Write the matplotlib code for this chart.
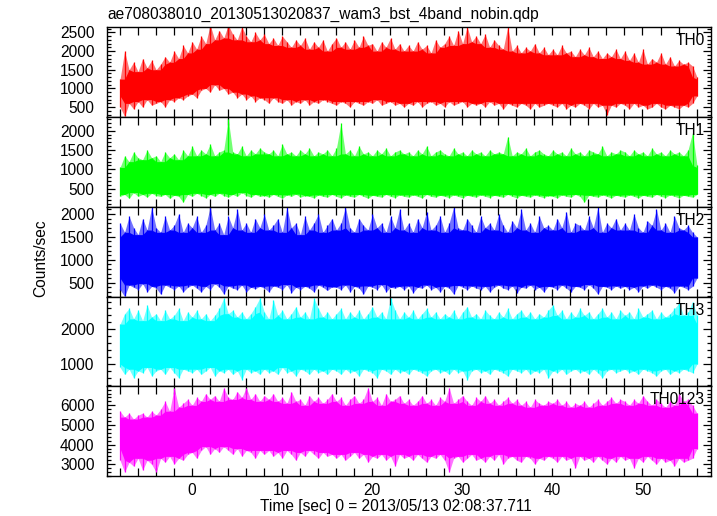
import numpy as np
import matplotlib
matplotlib.use("Agg")
import matplotlib.pyplot as plt
from matplotlib.ticker import MultipleLocator

plt.rcParams['font.family'] = ['Liberation Sans', 'DejaVu Sans']

title = "ae708038010_20130513020837_wam3_bst_4band_nobin.qdp"
xlabel = "Time [sec] 0 = 2013/05/13 02:08:37.711"
ylabel = "Counts/sec"

t_start = -7.95
dt = 0.5

bands = ["TH0", "TH1", "TH2", "TH3", "TH0123"]
colors = ["#ff0000", "#00ff00", "#0000ff", "#00ffff", "#ff00ff"]

th0_hi = [1250, 2000, 1500, 1700, 1450, 1800, 1550, 1750, 1500, 1650, 1850, 1700, 2000, 1800, 2150, 1950,
          2250, 2050, 2400, 2200, 2700, 2300, 2550, 2350, 2700, 2450, 2300, 2650, 2400, 2250, 2500, 2300,
          2450, 2200, 2350, 2150, 2400, 2250, 2100, 2300, 2150, 2350, 2050, 2250, 2100, 2300, 2000, 2200,
          2350, 2100, 2250, 2050, 2300, 2100, 2400, 2150, 2200, 2000, 2250, 2100, 2350, 2050, 2200, 2000,
          2150, 2000, 2250, 2050, 2150, 1950, 2300, 2100, 2200, 2400, 2150, 2550, 2200, 2650, 2250, 2400,
          2200, 2450, 2100, 2300, 2150, 2050, 2650, 2000, 2150, 1950, 2100, 2000, 2200, 1950, 2100, 1900,
          2050, 1900, 2150, 1950, 2000, 1850, 2050, 1900, 2100, 1850, 2000, 1800, 1950, 1850, 2050, 1800,
          2000, 1750, 1950, 1700, 2050, 1650, 1800, 1700, 1950, 1650, 1850, 1600, 1750, 1650, 1700, 1600,
          1300]
th0_lo = [500, 250, 600, 450, 650, 500, 700, 550, 600, 650, 500, 700, 650, 750, 700, 800,
          850, 750, 950, 1000, 900, 1100, 950, 1000, 850, 900, 750, 850, 700, 800, 650, 750,
          700, 600, 750, 650, 600, 700, 550, 650, 600, 700, 550, 650, 600, 700, 650, 600,
          550, 650, 600, 500, 650, 600, 550, 650, 600, 700, 550, 600, 650, 550, 600, 500,
          600, 550, 650, 500, 600, 650, 550, 600, 500, 650, 550, 600, 650, 500, 600, 550,
          600, 500, 650, 550, 600, 450, 600, 550, 500, 600, 550, 450, 600, 500, 550, 600,
          550, 500, 600, 450, 550, 500, 600, 550, 450, 600, 500, 550, 300, 550, 500, 600,
          550, 450, 600, 500, 550, 450, 500, 600, 500, 450, 550, 500, 450, 550, 500, 600,
          800]

th1_hi = [1050, 1350, 1200, 1450, 1300, 1250, 1500, 1300, 1350, 1200, 1450, 1300, 1400, 1250, 1500, 1350,
          1600, 1350, 1500, 1400, 1650, 1350, 1450, 1500, 2300, 1450, 1400, 1600, 1350, 1500, 1400, 1550,
          1450, 1400, 1500, 1350, 1650, 1400, 1450, 1350, 1500, 1400, 1550, 1350, 1450, 1400, 1500, 1350,
          1550, 2200, 1400, 1500, 1350, 1600, 1400, 1450, 1350, 1500, 1400, 1550, 1350, 1450, 1500, 1400,
          1450, 1350, 1500, 1400, 1600, 1350, 1450, 1500, 1400, 1350, 1550, 1400, 1450, 1350, 1500, 1400,
          1450, 1350, 1500, 1400, 1450, 1400, 1850, 1350, 1450, 1400, 1550, 1350, 1450, 1500, 1400, 1350,
          1500, 1400, 1450, 1350, 1550, 1400, 1450, 1350, 1500, 1450, 1400, 1600, 1350, 1450, 1400, 1500,
          1450, 1350, 1500, 1400, 1450, 1350, 1550, 1400, 1450, 1350, 1500, 1400, 1450, 1350, 1500, 1950,
          1100]
th1_lo = [300, 350, 250, 400, 300, 350, 280, 380, 320, 300, 350, 250, 330, 300, 150, 350,
          300, 380, 320, 260, 350, 300, 380, 320, 280, 350, 300, 400, 320, 280, 350, 300,
          320, 280, 350, 300, 250, 340, 300, 360, 280, 320, 300, 260, 340, 300, 280, 350,
          300, 260, 340, 300, 280, 350, 300, 250, 330, 300, 280, 350, 300, 270, 340, 300,
          280, 340, 300, 260, 350, 300, 280, 330, 300, 270, 340, 300, 260, 330, 300, 280,
          340, 300, 270, 330, 300, 280, 350, 300, 260, 330, 300, 280, 340, 300, 270, 320,
          300, 260, 340, 300, 280, 350, 300, 150, 330, 300, 280, 340, 300, 260, 330, 300,
          280, 340, 300, 260, 330, 300, 280, 350, 300, 270, 340, 300, 260, 330, 300, 280,
          350]

th2_hi = [1800, 1600, 1950, 1700, 1550, 1900, 1650, 2150, 1700, 1600, 1950, 1650, 1750, 2000, 1600, 1800,
          1700, 1950, 1600, 1750, 2150, 1650, 1800, 1550, 1950, 1700, 2100, 1650, 1800, 1600, 1900, 1700,
          2000, 1650, 1750, 1900, 1600, 2150, 1700, 1800, 1550, 1950, 1650, 1800, 2000, 1600, 1750, 1900,
          1650, 1800, 2150, 1700, 1600, 1900, 1750, 1650, 2000, 1700, 1800, 1600, 1950, 1700, 2100, 1650,
          1800, 1600, 1900, 1700, 2050, 1650, 1750, 1950, 1600, 1800, 2150, 1700, 1650, 1900, 1750, 1600,
          1950, 1700, 1800, 1650, 2000, 1750, 1600, 1850, 1700, 2100, 1650, 1800, 1600, 1950, 1700, 1750,
          1650, 1900, 1700, 2050, 1600, 1800, 1750, 1650, 1950, 1700, 2150, 1600, 1800, 1700, 1900, 1650,
          1800, 1650, 2000, 1700, 1600, 1850, 1750, 2100, 1650, 1800, 1600, 1950, 1700, 1650, 1750, 1600,
          1500]
th2_lo = [350, 200, 450, 400, 350, 480, 300, 420, 380, 250, 450, 400, 350, 430, 300, 400,
          450, 380, 300, 420, 350, 480, 400, 250, 430, 380, 350, 450, 300, 400, 370, 420,
          380, 300, 430, 400, 350, 460, 280, 400, 350, 420, 380, 300, 450, 400, 330, 410,
          400, 350, 450, 300, 420, 380, 250, 430, 400, 350, 460, 300, 400, 380, 420, 350,
          430, 280, 400, 380, 450, 350, 400, 300, 420, 380, 250, 440, 400, 350, 430, 380,
          350, 420, 300, 400, 450, 380, 350, 430, 280, 400, 380, 450, 350, 400, 300, 420,
          400, 350, 450, 380, 300, 420, 400, 350, 460, 380, 250, 420, 400, 350, 430, 380,
          420, 350, 400, 300, 430, 380, 450, 400, 350, 420, 380, 280, 430, 400, 350, 420,
          600]

th3_hi = [2150, 2450, 2600, 2300, 2550, 2250, 2700, 2350, 2450, 2250, 2550, 2300, 2400, 2600, 2250, 2500,
          2350, 2550, 2300, 2450, 2250, 2400, 2600, 2900, 2450, 2550, 2350, 2500, 2300, 2450, 2650, 2900,
          2500, 2300, 2850, 2400, 2550, 2300, 2450, 2650, 2350, 2500, 2300, 2900, 2600, 2350, 2500, 2300,
          2450, 2600, 2300, 2500, 2350, 2550, 2300, 2450, 2650, 2350, 2500, 2300, 2900, 2550, 2300, 2500,
          2350, 2550, 2300, 2450, 2600, 2350, 2500, 2300, 2450, 2350, 2550, 2300, 2500, 2650, 2350, 2450,
          2300, 2550, 2400, 2300, 2500, 2350, 2600, 2300, 2450, 2550, 2350, 2500, 2300, 2450, 2350, 2550,
          2700, 2400, 2550, 2300, 2500, 2350, 2600, 2400, 2500, 2300, 2450, 2600, 2350, 2500, 2300, 2550,
          2400, 2500, 2300, 2600, 2350, 2450, 2550, 2300, 2500, 2350, 2450, 2600, 2750, 2400, 2500, 2800,
          2400]
th3_lo = [900, 700, 850, 600, 800, 750, 900, 650, 800, 850, 700, 900, 750, 600, 850, 800,
          750, 850, 700, 800, 900, 650, 800, 750, 850, 700, 800, 550, 850, 750, 800, 700,
          850, 750, 800, 700, 900, 750, 800, 650, 850, 800, 700, 850, 750, 800, 700, 850,
          800, 700, 850, 750, 800, 650, 850, 800, 750, 600, 850, 800, 700, 850, 750, 800,
          700, 850, 800, 750, 650, 800, 850, 750, 800, 700, 850, 750, 800, 550, 800, 850,
          750, 800, 700, 850, 800, 750, 650, 850, 800, 750, 850, 700, 800, 750, 850, 600,
          800, 750, 850, 700, 800, 850, 750, 800, 700, 850, 750, 600, 800, 850, 750, 800,
          850, 750, 800, 700, 850, 800, 750, 650, 800, 850, 700, 800, 750, 850, 800, 750,
          1000]

th0123_hi = [5700, 5400, 5600, 5300, 5500, 5600, 5400, 5700, 5500, 5800, 6200, 5700, 6900, 5900, 6100, 6300,
             6000, 6400, 6200, 6600, 6300, 6500, 6200, 6900, 6400, 6300, 6700, 6400, 6900, 6300, 6600, 6200,
             6500, 6300, 6600, 6200, 6400, 6100, 6700, 6200, 6300, 6000, 6500, 6200, 6400, 6100, 6300, 6600,
             6200, 6400, 6000, 6300, 6500, 6100, 6300, 6900, 6200, 6400, 6000, 6600, 6200, 6300, 6500, 6100,
             6300, 6000, 6200, 6500, 6100, 6300, 6000, 6400, 6200, 6900, 6100, 6300, 6500, 6200, 6000, 6400,
             6200, 6500, 6100, 6300, 6000, 6200, 6400, 6100, 6300, 6000, 6200, 5900, 6300, 6100, 6000, 6200,
             6100, 6300, 6000, 6200, 5900, 6100, 6000, 6200, 5900, 6100, 6300, 6000, 6200, 6400, 6100, 6300,
             6200, 6000, 6300, 6100, 6500, 6200, 6000, 6300, 6100, 5900, 6200, 6000, 6600, 6200, 6300, 6000,
             5600]
th0123_lo = [3200, 2600, 3100, 2900, 3300, 2700, 3200, 3000, 2600, 3300, 3100, 3400, 3000, 3300, 3200, 3500,
             3600, 3300, 3700, 3900, 3500, 3800, 3600, 3900, 3700, 3500, 3800, 3400, 3700, 3600, 3300, 3700,
             3500, 3700, 3400, 3600, 3300, 3700, 3500, 3200, 3600, 3400, 3700, 3500, 3300, 3600, 3400, 3500,
             3300, 3500, 3200, 3400, 3600, 3300, 3500, 3100, 3400, 3300, 3500, 3200, 3400, 2900, 3500, 3300,
             3400, 3200, 3500, 3300, 3100, 3400, 3300, 3500, 3200, 2600, 3300, 3400, 3100, 3300, 3500, 3200,
             3300, 3100, 3400, 3200, 3500, 3000, 3300, 3400, 3200, 3100, 3400, 3300, 3000, 3300, 3200, 3400,
             3300, 3100, 3400, 3200, 3300, 2800, 3400, 3200, 3300, 3100, 3400, 3200, 3000, 3300, 3100, 3400,
             3200, 3300, 2800, 3300, 3100, 3400, 3200, 3000, 3300, 3100, 3200, 2900, 3300, 3100, 3200, 3300,
             3800]

highs = [th0_hi, th1_hi, th2_hi, th3_hi, th0123_hi]
lows = [th0_lo, th1_lo, th2_lo, th3_lo, th0123_lo]

ylims = [(235, 2645), (26, 2355), (188, 2153), (366, 2931), (2400, 6985)]
ymajor = [500, 500, 500, 1000, 1000]
yminor = [100, 100, 100, 200, 200]
xlim = (-9.4, 57.6)

FS = 11.2
W, H = 717, 516
fig = plt.figure(figsize=(W / 100, H / 100), dpi=100)
tops = [27, 117, 207, 297, 386]
bots = [117, 207, 297, 386, 476]
left, right = 107, 711

for i in range(5):
    ax = fig.add_axes([left / W, 1 - bots[i] / H, (right - left) / W, (bots[i] - tops[i]) / H])
    hi = np.array(highs[i], dtype=float)
    lo = np.array(lows[i], dtype=float)
    time = t_start + dt * np.arange(len(hi))
    ax.fill_between(time, lo, hi, color=colors[i], lw=0, alpha=0.55)
    core_hi = np.minimum(hi, np.roll(hi, 1))
    core_hi = np.minimum(core_hi, np.roll(hi, -1))
    core_lo = np.maximum(lo, np.roll(lo, 1))
    core_lo = np.maximum(core_lo, np.roll(lo, -1))
    ax.fill_between(time, core_lo, core_hi, color=colors[i], lw=0)
    ax.vlines(time, lo, hi, color=colors[i], lw=0.9)
    ax.set_xlim(*xlim)
    ax.set_ylim(*ylims[i])
    ax.xaxis.set_major_locator(MultipleLocator(10))
    ax.xaxis.set_minor_locator(MultipleLocator(2))
    ax.yaxis.set_major_locator(MultipleLocator(ymajor[i]))
    ax.yaxis.set_minor_locator(MultipleLocator(yminor[i]))
    ax.tick_params(which='both', direction='in', top=True, right=True, labelsize=FS,
                   colors='black', width=0.9)
    ax.tick_params(which='major', length=6)
    ax.tick_params(axis='y', which='major', pad=9)
    ax.tick_params(axis='x', which='major', pad=5)
    ax.tick_params(which='minor', length=3)
    ax.tick_params(axis='x', which='minor', length=6)
    if i < 4:
        ax.tick_params(labelbottom=False)
    for s in ax.spines.values():
        s.set_linewidth(1.0)
        s.set_color('black')
    ax.text(0.99, 0.93, bands[i], transform=ax.transAxes, ha='right', va='top', fontsize=FS)

fig.text(left / W, 1 - 14 / H, title, ha='left', va='center', fontsize=FS)
fig.text(396 / W, 1 - 507 / H, xlabel, ha='center', va='center', fontsize=FS)
fig.text(41 / W, 1 - 258 / H, ylabel, ha='center', va='center', rotation=90, fontsize=FS)

fig.savefig("out.png", dpi=100)
